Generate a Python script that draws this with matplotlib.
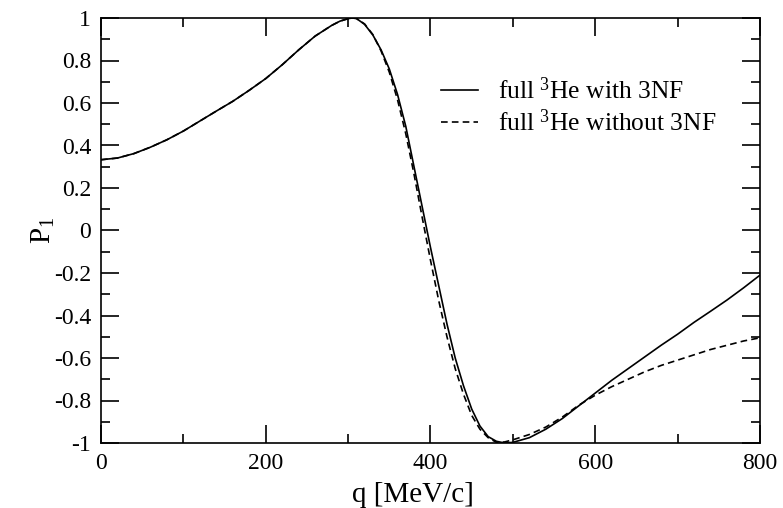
import numpy as np
import matplotlib
matplotlib.use("Agg")
import matplotlib.pyplot as plt
from matplotlib.ticker import MultipleLocator, FuncFormatter

plt.rcParams['font.family'] = ['Liberation Serif', 'DejaVu Serif']
plt.rcParams['mathtext.fontset'] = 'custom'
plt.rcParams['mathtext.rm'] = 'Liberation Serif'
plt.rcParams['axes.unicode_minus'] = False

# P_1 vs q, full 3He with 3NF (solid)
q_with = [0, 20, 40, 60, 80, 100, 120, 140, 160, 180, 200, 220, 240, 260, 280,
          290, 300, 305, 310, 320, 330, 340, 350, 360, 370, 380, 390, 400, 410,
          420, 430, 440, 450, 460, 470, 480, 490, 500, 520, 540, 560, 580, 600,
          620, 640, 660, 680, 700, 720, 740, 760, 780, 800]
p_with = [0.333, 0.341, 0.362, 0.392, 0.427, 0.468, 0.515, 0.562, 0.608, 0.660,
          0.715, 0.780, 0.850, 0.915, 0.965, 0.985, 0.997, 1.000, 0.998, 0.970,
          0.920, 0.850, 0.760, 0.640, 0.490, 0.300, 0.110, -0.080, -0.260,
          -0.440, -0.600, -0.730, -0.840, -0.920, -0.970, -0.992, -1.000,
          -0.997, -0.975, -0.935, -0.885, -0.825, -0.765, -0.705, -0.650,
          -0.595, -0.540, -0.488, -0.432, -0.380, -0.327, -0.270, -0.210]

# full 3He without 3NF (dashed)
q_without = [0, 20, 40, 60, 80, 100, 120, 140, 160, 180, 200, 220, 240, 260, 280,
             290, 300, 305, 310, 320, 330, 340, 350, 360, 370, 380, 390, 400, 410,
             420, 430, 440, 450, 460, 470, 480, 490, 500, 520, 540, 560, 580, 600,
             620, 640, 660, 680, 700, 720, 740, 760, 780, 800]
p_without = [0.333, 0.341, 0.362, 0.392, 0.427, 0.468, 0.515, 0.562, 0.608, 0.660,
             0.715, 0.780, 0.850, 0.915, 0.965, 0.985, 0.997, 1.000, 0.998, 0.972,
             0.922, 0.845, 0.745, 0.615, 0.455, 0.265, 0.060, -0.140, -0.330,
             -0.500, -0.650, -0.770, -0.870, -0.935, -0.975, -0.997, -0.995,
             -0.985, -0.960, -0.925, -0.878, -0.822, -0.775, -0.735, -0.700,
             -0.665, -0.635, -0.610, -0.585, -0.560, -0.540, -0.520, -0.505]

legend_labels = ['full $\\mathregular{^3}$He with 3NF', 'full $\\mathregular{^3}$He without 3NF']

fig = plt.figure(figsize=(7.83, 5.08), dpi=100)
ax = fig.add_axes([101/783, 1-443/508, 659/783, 425/508])

ax.plot(q_with, p_with, color='black', lw=1.2, label=legend_labels[0])
ax.plot(q_without, p_without, color='black', lw=1.2, ls=(0, (4, 2.5)), label=legend_labels[1])

ax.set_xlim(0, 800)
ax.set_ylim(-1, 1)
ax.xaxis.set_major_locator(MultipleLocator(200))
ax.xaxis.set_minor_locator(MultipleLocator(100))
ax.yaxis.set_major_locator(MultipleLocator(0.2))
ax.yaxis.set_minor_locator(MultipleLocator(0.1))
ax.yaxis.set_major_formatter(FuncFormatter(lambda v, p: ('%g' % round(v, 2))))
ax.tick_params(which='both', direction='in', top=True, right=True, width=1.2)
ax.tick_params(which='major', length=13, labelsize=17, pad=7)
ax.tick_params(which='minor', length=6.5)
for s in ax.spines.values():
    s.set_linewidth(1.2)

ax.set_xlabel('q [MeV/c]', fontsize=21)
ax.xaxis.set_label_coords(0.473, -0.092)
ax.set_ylabel('P$_\\mathregular{1}$', fontsize=21, labelpad=-2)

ax.legend(loc='upper left', bbox_to_anchor=(0.516, 0.86), frameon=False, fontsize=18.4,
          handlelength=1.45, handletextpad=0.78, labelspacing=0.2,
          borderpad=0, borderaxespad=0)

fig.savefig('out.png', dpi=100)
